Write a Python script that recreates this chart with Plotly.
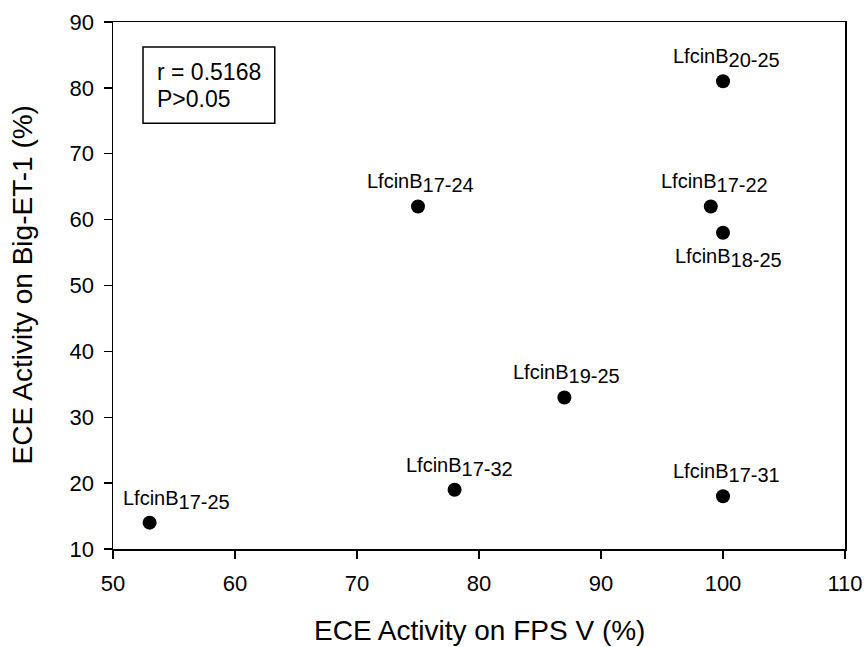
import plotly.graph_objects as go

names = ["17-25", "17-32", "19-25", "17-24", "17-22", "18-25", "20-25", "17-31"]
fps_v = [53, 78, 87, 75, 99, 100, 100, 100]
big_et1 = [14, 19, 33, 62, 62, 58, 81, 18]
label_dx = [27, 5, 2, 2, 4, 5, 3, 3]
label_below = [False, False, False, False, False, True, False, False]
x_ticks = [50, 60, 70, 80, 90, 100, 110]
y_ticks = [10, 20, 30, 40, 50, 60, 70, 80, 90]
stat_lines = ["r = 0.5168", "P>0.05"]

FONT = "Liberation Sans, Arial, sans-serif"

fig = go.Figure()
fig.add_trace(go.Scatter(
    x=fps_v, y=big_et1, mode="markers",
    marker=dict(color="black", size=14, symbol="circle"),
    showlegend=False, hoverinfo="skip"))

for n, x, y, dx, below in zip(names, fps_v, big_et1, label_dx, label_below):
    fig.add_annotation(
        x=x, y=y, xref="x", yref="y",
        text=f"LfcinB<sub><span style=\"font-size:20px\">{n}</span></sub>",
        showarrow=False,
        font=dict(family=FONT, size=20, color="black"),
        xanchor="center", yanchor="top" if below else "bottom",
        xshift=dx, yshift=-10 if below else 8)

# statistics box
fig.add_shape(type="rect", xref="paper", yref="paper",
              x0=0.041, x1=0.221, y0=0.808, y1=0.9526,
              line=dict(color="black", width=1.5), fillcolor="white",
              layer="below")
for txt, yy in zip(stat_lines, [0.905, 0.854]):
    fig.add_annotation(x=0.0574, y=yy, xref="paper", yref="paper",
                       text=txt, showarrow=False, xanchor="left",
                       yanchor="middle",
                       font=dict(family=FONT, size=23, color="black"))

# axis titles
fig.add_annotation(x=0.5, y=0, xref="paper", yref="paper",
                   text="ECE Activity on FPS V (%)", showarrow=False,
                   xanchor="center", yanchor="middle", yshift=-81,
                   font=dict(family=FONT, size=28, color="black"))
fig.add_annotation(x=0, y=0.5, xref="paper", yref="paper",
                   text="ECE Activity on Big-ET-1 (%)", showarrow=False,
                   xanchor="center", yanchor="middle", xshift=-91,
                   textangle=-90,
                   font=dict(family=FONT, size=28, color="black"))

axis_common = dict(
    showgrid=False, zeroline=False, showline=True, linecolor="black",
    linewidth=1.5, mirror=True, ticks="outside", ticklen=8,
    tickwidth=1.3, tickcolor="black", automargin=False,
    tickfont=dict(family=FONT, size=22, color="black"))

fig.update_xaxes(range=[50, 110], tickvals=x_ticks, ticklabelstandoff=6,
                 **axis_common)
fig.update_yaxes(range=[10, 90], tickvals=y_ticks, ticklabelstandoff=5,
                 **axis_common)

fig.update_layout(
    width=868, height=647,
    margin=dict(l=113, r=23, t=22, b=98),
    plot_bgcolor="white", paper_bgcolor="white")

fig.write_html("out.html",
               config={"displayModeBar": False, "staticPlot": True},
               post_script="document.body.style.margin='0';document.body.style.overflow='hidden';")
